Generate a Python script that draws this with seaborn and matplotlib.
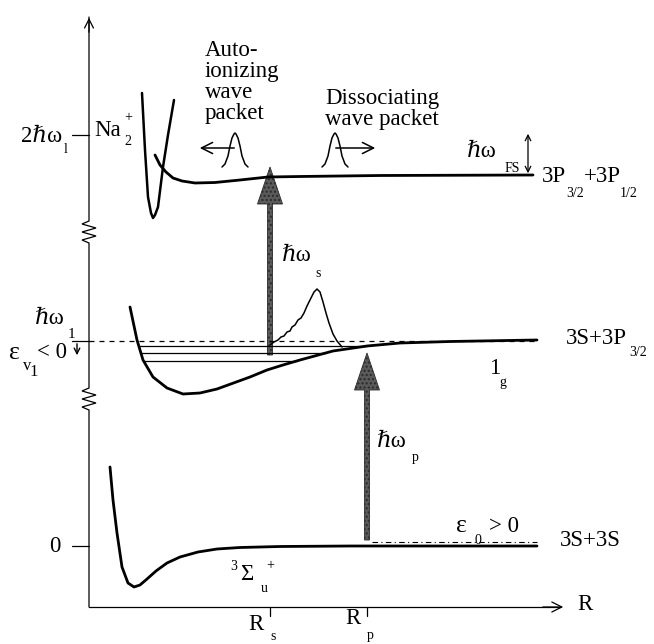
import numpy as np
import matplotlib
matplotlib.use("Agg")
import matplotlib.pyplot as plt
from matplotlib.patches import FancyArrow
import seaborn as sns

sns.set_theme(style="white")
plt.rcParams["font.family"] = ["Liberation Serif", "DejaVu Serif"]

# Potential curves (R, energy) in drawing units; energy axis points downward
ground_R = [110, 113, 117, 122, 128, 134, 140, 147, 156, 167, 180, 198, 217, 240, 280, 350, 537]
ground_E = [467, 500, 533, 567, 583, 587, 585, 579, 571, 563, 557, 552, 549, 547.5, 546.5, 546, 546]

excited_R = [130, 137, 143, 153, 167, 183, 200, 217, 250, 267, 283, 300, 333, 367, 400, 450, 537]
excited_E = [307, 340, 360, 377, 388, 394, 393, 389, 377, 370, 365, 360, 351, 346, 343, 341.5, 340]

upper_R = [155, 160, 166, 173, 182, 195, 215, 240, 268, 300, 380, 533]
upper_E = [155, 165, 172, 178, 181, 183, 182.5, 180, 177, 176.5, 175.5, 175]

ion_R = [142, 145, 148, 151, 153, 155, 158, 163, 168, 174]
ion_E = [93, 150, 197, 213, 218, 215, 207, 167, 135, 100]

# Bound wave packet near the outer turning point
packet_R = [270, 274, 278, 281, 284, 287, 290, 292, 295, 298, 301, 304, 307, 311, 314, 317, 320, 323, 326, 329, 333, 337, 342]
packet_E = [345, 342, 340, 337, 336, 332, 331, 327, 325, 320, 318, 313, 306, 298, 292, 289, 292, 302, 313, 323, 334, 341, 347]

# Small travelling packets on the upper curve (offset from centre, height)
gauss_dx = [-13, -10, -7, -5, -3, -1, 0, 1, 3, 5, 7, 10, 13]
gauss_dy = [0, -3, -11, -21, -29, -33, -34, -33, -29, -21, -11, -3, 0]
gauss_centres = [235, 335]
gauss_base = 167

# Vibrational levels of the 1g well and special energies
level_E = [346, 353, 361]
threshold_E = 341
zero_E = 546
two_omega_E = 135
eps0_E = 542

R_s, R_p = 270, 367

fig = plt.figure(figsize=(6.54, 6.44), dpi=100)
ax = fig.add_axes([0, 0, 1, 1])
ax.set_xlim(0, 654)
ax.set_ylim(644, 0)
ax.axis("off")

ink = "black"
thick = 2.0

# Energy axis with two breaks (zigzags), then the R axis
ax_x, ax_bottom, ax_top = 89, 607, 15
zz_off = [0, 0, -7, 7, -7, 7, -7, 0, 0]
zz_dy = [0, 2, 5, 9, 13, 17, 21, 24, 25]
breaks = [(412, 387), (245, 220)]
vx, vy = [ax_x], [ax_bottom]
for lo, hi in breaks:
    vx.append(ax_x); vy.append(lo)
    for o, d in zip(zz_off, zz_dy):
        vx.append(ax_x + o); vy.append(lo - d * (lo - hi) / 25)
vx.append(ax_x); vy.append(ax_top + 2)
ax.plot(vx, vy, color=ink, lw=0.9, solid_joinstyle="miter")
ax.annotate("", xy=(ax_x, ax_top), xytext=(ax_x, ax_top + 20),
            arrowprops=dict(arrowstyle="->", lw=0.9, color=ink, mutation_scale=16))
ax.plot([ax_x, 560], [ax_bottom, ax_bottom], color=ink, lw=0.9)
ax.annotate("", xy=(566, ax_bottom), xytext=(540, ax_bottom),
            arrowprops=dict(arrowstyle="->", lw=0.9, color=ink, mutation_scale=18))

# Tick marks
for yv in [two_omega_E, threshold_E, zero_E]:
    ax.plot([72, ax_x], [yv, yv], color=ink, lw=0.9)
for xv in [R_s, R_p]:
    ax.plot([xv, xv], [ax_bottom, ax_bottom + 9], color=ink, lw=0.9)

# Potential curves
for R, E in [(ground_R, ground_E), (excited_R, excited_E), (upper_R, upper_E)]:
    sns.lineplot(x=R, y=E, sort=False, estimator=None, color=ink, lw=thick, ax=ax)
sns.lineplot(x=ion_R, y=ion_E, sort=False, estimator=None, color=ink, lw=1.8, ax=ax)

# Vibrational levels between the walls of the 1g well
imin = int(np.argmax(excited_E))
left_R, left_E = np.array(excited_R[:imin + 1]), np.array(excited_E[:imin + 1])
right_R, right_E = np.array(excited_R[imin:]), np.array(excited_E[imin:])
for e in level_E:
    r0 = np.interp(e, left_E, left_R)
    r1 = np.interp(e, right_E[::-1], right_R[::-1])
    ax.plot([r0, r1], [e, e], color=ink, lw=0.9)

# Dissociation threshold and continuum energy
ax.plot([ax_x, 537], [threshold_E, threshold_E], color=ink, lw=0.9, ls=(0, (4, 4)))
ax.plot([372, 537], [eps0_E, eps0_E], color=ink, lw=0.8, ls=(0, (5, 3, 1, 3)))

# Bound wave packet
sns.lineplot(x=packet_R, y=packet_E, sort=False, estimator=None, color=ink, lw=1.1, ax=ax)

# Travelling packets and their directions
for c in gauss_centres:
    ax.plot([c + d for d in gauss_dx], [gauss_base + d for d in gauss_dy], color=ink, lw=1.1)
ax.annotate("", xy=(197, 148), xytext=(237, 148),
            arrowprops=dict(arrowstyle="->", lw=1.1, color=ink, mutation_scale=20))
ax.annotate("", xy=(378, 148), xytext=(333, 148),
            arrowprops=dict(arrowstyle="->", lw=1.1, color=ink, mutation_scale=20))

# Fine-structure splitting and bound-level energy arrows
ax.annotate("", xy=(528, 176), xytext=(528, 131),
            arrowprops=dict(arrowstyle="<->", lw=0.9, color=ink, mutation_scale=10))
ax.annotate("", xy=(77, 358), xytext=(77, 341),
            arrowprops=dict(arrowstyle="->", lw=1.0, color=ink, mutation_scale=10))

# Laser transitions (pump and probe photons)
arrow_kw = dict(width=5, head_width=25, head_length=37, length_includes_head=True,
                facecolor="#5a5a5a", edgecolor="#2a2a2a", lw=0.6, hatch="....")
ax.add_patch(FancyArrow(R_s, 355, 0, 167 - 355, **arrow_kw))
ax.add_patch(FancyArrow(R_p, 540, 0, 353 - 540, **arrow_kw))

fs = 16.5
sub = 10
t = dict(color=ink)
ax.text(62, 136, "2\u210f\u03c9", fontsize=fs, ha="right", va="center", **t)
ax.text(66, 149, "l", fontsize=sub, ha="center", va="center", **t)
ax.text(94, 130, "Na", fontsize=fs, ha="left", va="center", **t)
ax.text(128, 118, "+", fontsize=sub, ha="center", va="center", **t)
ax.text(128, 141, "2", fontsize=sub, ha="center", va="center", **t)

ax.text(35, 318, "\u210f\u03c9", fontsize=fs, ha="left", va="center", **t)
ax.text(71, 334, "1", fontsize=sub + 1, ha="center", va="center", **t)
ax.text(9, 353, "\u03b5", fontsize=fs + 2, ha="left", va="center", **t)
ax.text(27, 366, "v", fontsize=sub + 2, ha="center", va="center", **t)
ax.text(34, 372, "1", fontsize=sub + 2, ha="center", va="center", **t)
ax.text(37, 352, "< 0", fontsize=fs, ha="left", va="center", **t)
ax.text(61, 547, "0", fontsize=fs, ha="right", va="center", **t)

ax.text(205, 119, "Auto-\nionizing\nwave\npacket", fontsize=fs, ha="left", va="baseline",
        linespacing=1.0, **t)
ax.text(325, 125, "Dissociating\nwave packet", fontsize=fs, ha="left", va="baseline",
        linespacing=1.0, **t)

ax.text(467, 151, "\u210f\u03c9", fontsize=fs, ha="left", va="center", **t)
ax.text(512, 168, "FS", fontsize=sub, ha="center", va="center", **t)
ax.text(542, 176, "3P", fontsize=fs, ha="left", va="center", **t)
ax.text(575, 193, "3/2", fontsize=sub, ha="center", va="center", **t)
ax.text(584, 176, "+3P", fontsize=fs, ha="left", va="center", **t)
ax.text(629, 193, "1/2", fontsize=sub, ha="center", va="center", **t)

ax.text(282, 255, "\u210f\u03c9", fontsize=fs, ha="left", va="center", **t)
ax.text(318, 273, "s", fontsize=sub, ha="center", va="center", **t)

ax.text(566, 338, "3S+3P", fontsize=fs, ha="left", va="center", **t)
ax.text(638, 352, "3/2", fontsize=sub, ha="center", va="center", **t)
ax.text(489, 368, "1", fontsize=fs, ha="left", va="center", **t)
ax.text(503, 382, "g", fontsize=sub, ha="center", va="center", **t)

ax.text(377, 441, "\u210f\u03c9", fontsize=fs, ha="left", va="center", **t)
ax.text(415, 457, "p", fontsize=sub, ha="center", va="center", **t)

ax.text(456, 526, "\u03b5", fontsize=fs + 2, ha="left", va="center", **t)
ax.text(478, 540, "0", fontsize=sub, ha="center", va="center", **t)
ax.text(489, 526, "> 0", fontsize=fs, ha="left", va="center", **t)
ax.text(560, 540, "3S+3S", fontsize=fs, ha="left", va="center", **t)

ax.text(234, 566, "3", fontsize=sub, ha="center", va="center", **t)
ax.text(240, 574, "\u03a3", fontsize=fs, ha="left", va="center", **t)
ax.text(270, 566, "+", fontsize=sub, ha="center", va="center", **t)
ax.text(264, 588, "u", fontsize=sub, ha="center", va="center", **t)

ax.text(248, 624, "R", fontsize=fs, ha="left", va="center", **t)
ax.text(273, 636, "s", fontsize=sub, ha="center", va="center", **t)
ax.text(345, 618, "R", fontsize=fs, ha="left", va="center", **t)
ax.text(370, 635, "p", fontsize=sub, ha="center", va="center", **t)
ax.text(577, 604, "R", fontsize=fs, ha="left", va="center", **t)

fig.savefig("out.png", dpi=100, facecolor="white")
